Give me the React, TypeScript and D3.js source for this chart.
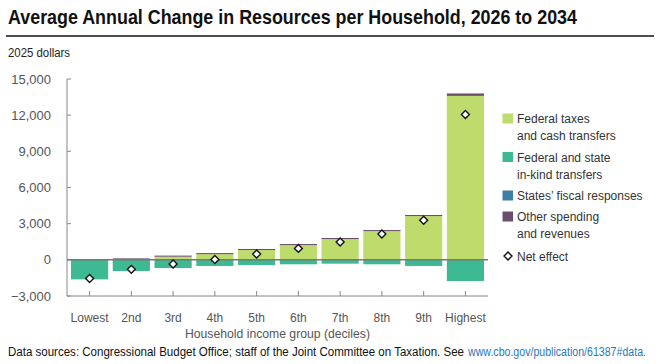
import * as d3 from "d3";

const deciles = ["Lowest", "2nd", "3rd", "4th", "5th", "6th", "7th", "8th", "9th", "Highest"];
// 2025 dollars, average annual change per household
const federalTaxes = [30, 60, 260, 470, 810, 1220, 1720, 2380, 3630, 13600];
const inKindTransfers = [-1620, -930, -680, -510, -430, -370, -320, -370, -510, -1760];
const statesFiscal = [0, 0, 0, 0, 0, 0, 0, 0, 0, 0];
const otherSpending = [40, 60, 90, 90, 90, 90, 90, 90, 90, 200];
const netEffect = [-1550, -790, -350, 30, 480, 950, 1480, 2140, 3280, 12050];
const yTicks = [-3000, 0, 3000, 6000, 9000, 12000, 15000];

const seriesKeys = ["federal", "inkind", "states", "other"];
const seriesColors: Record<string, string> = {
  federal: "#bedc6c",
  inkind: "#3dba94",
  states: "#3c82a0",
  other: "#6a4e6c",
};
const legendItems = [
  { key: "federal", lines: ["Federal taxes", "and cash transfers"] },
  { key: "inkind", lines: ["Federal and state", "in-kind transfers"] },
  { key: "states", lines: ["States\u2019 fiscal responses"] },
  { key: "other", lines: ["Other spending", "and revenues"] },
];

const W = 656;
const H = 364;
const font = "'Liberation Sans', Arial, sans-serif";
const narrow = "'Liberation Sans Narrow', 'Arial Narrow', 'Liberation Sans', Arial, sans-serif";

export default function App() {
  const rows = deciles.map((d, i) => ({
    decile: d,
    federal: federalTaxes[i],
    inkind: inKindTransfers[i],
    states: statesFiscal[i],
    other: otherSpending[i],
  }));

  const stack = d3
    .stack<any>()
    .keys(seriesKeys)
    .offset(d3.stackOffsetDiverging);
  const layers = stack(rows);

  const x = d3.scaleBand().domain(deciles).range([71, 484]).paddingInner(0.11);
  const y = d3.scaleLinear().domain([-3000, 15000]).range([296, 79]);
  const left = 67;
  const right = 488;

  const diamond = d3.symbol().type(d3.symbolDiamond2).size(40)();

  return (
    <svg
      width={W}
      height={H}
      style={{ position: "absolute", left: 0, top: 0, background: "#fff" }}
    >
      <text
        x={8}
        y={24}
        fontFamily={narrow}
        fontWeight="bold"
        fontSize={20.5}
        fill="#111"
        textLength={569}
        lengthAdjust="spacingAndGlyphs"
      >
        Average Annual Change in Resources per Household, 2026 to 2034
      </text>
      <line x1={6} x2={654} y1={36} y2={36} stroke="#111" strokeWidth={1.5} />
      <text
        x={8}
        y={57}
        fontFamily={narrow}
        fontSize={12.5}
        fill="#222"
        textLength={62}
        lengthAdjust="spacingAndGlyphs"
      >
        2025 dollars
      </text>

      {/* y axis */}
      <line x1={left} x2={left} y1={y(15000)} y2={y(-3000)} stroke="#888" strokeWidth={1} />
      {yTicks.map((t) => (
        <g key={t}>
          <line x1={left} x2={left + 4} y1={y(t)} y2={y(t)} stroke="#888" />
          <text
            x={51}
            y={y(t)}
            dy="0.35em"
            textAnchor="end"
            fontFamily={font}
            fontSize={13}
            fill="#555"
          >
            {d3.format(",")(t).replace("-", "\u2212")}
          </text>
        </g>
      ))}

      {/* bars */}
      {layers.map((layer) => (
        <g key={layer.key} fill={seriesColors[layer.key]}>
          {layer.map((d, i) => {
            const y0 = y(d[0]);
            const y1 = y(d[1]);
            return (
              <rect
                key={i}
                x={x(deciles[i])}
                width={x.bandwidth()}
                y={Math.min(y0, y1)}
                height={Math.abs(y0 - y1)}
              />
            );
          })}
        </g>
      ))}

      {/* zero line */}
      <line x1={left} x2={right} y1={y(0)} y2={y(0)} stroke="#777" strokeWidth={1.5} />

      {/* x axis */}
      <line x1={left} x2={right} y1={y(-3000)} y2={y(-3000)} stroke="#888" strokeWidth={1} />
      {deciles.map((d) => {
        const cx = (x(d) ?? 0) + x.bandwidth() / 2;
        return (
          <g key={d}>
            <line x1={cx} x2={cx} y1={y(-3000)} y2={y(-3000) - 5} stroke="#888" />
            <text
              x={cx}
              y={322}
              textAnchor="middle"
              fontFamily={font}
              fontSize={12}
              fill="#555"
            >
              {d}
            </text>
          </g>
        );
      })}
      <text
        x={(left + right) / 2}
        y={338}
        textAnchor="middle"
        fontFamily={font}
        fontSize={12.2}
        fill="#555"
      >
        Household income group (deciles)
      </text>

      {/* net effect markers */}
      {netEffect.map((v, i) => (
        <path
          key={i}
          d={diamond ?? ""}
          transform={`translate(${(x(deciles[i]) ?? 0) + x.bandwidth() / 2},${y(v)})`}
          fill="#fff"
          stroke="#111"
          strokeWidth={1.4}
        />
      ))}

      {/* legend */}
      {legendItems.map((item, i) => {
        const tops = [113.5, 152, 190.5, 211.5];
        const top = tops[i];
        return (
          <g key={item.key}>
            <rect x={502.5} y={top} width={10.5} height={10} fill={seriesColors[item.key]} />
            {item.lines.map((ln, j) => (
              <text
                key={j}
                x={517}
                y={top + 9.5 + j * 17}
                fontFamily={font}
                fontSize={12}
                fill="#333"
              >
                {ln}
              </text>
            ))}
          </g>
        );
      })}
      <path
        d={diamond ?? ""}
        transform="translate(508,256)"
        fill="#fff"
        stroke="#111"
        strokeWidth={1.4}
      />
      <text x={517} y={260.5} fontFamily={font} fontSize={12} fill="#333">
        Net effect
      </text>

      {/* source */}
      <text
        x={8}
        y={356}
        fontFamily={narrow}
        fontSize={12.5}
        fill="#111"
        textLength={456}
        lengthAdjust="spacingAndGlyphs"
      >
        Data sources: Congressional Budget Office; staff of the Joint Committee on Taxation. See
      </text>
      <text
        x={468}
        y={356}
        fontFamily={narrow}
        fontSize={12.5}
        fill="#2a78b8"
        textLength={178}
        lengthAdjust="spacingAndGlyphs"
      >
        www.cbo.gov/publication/61387#data.
      </text>
    </svg>
  );
}
